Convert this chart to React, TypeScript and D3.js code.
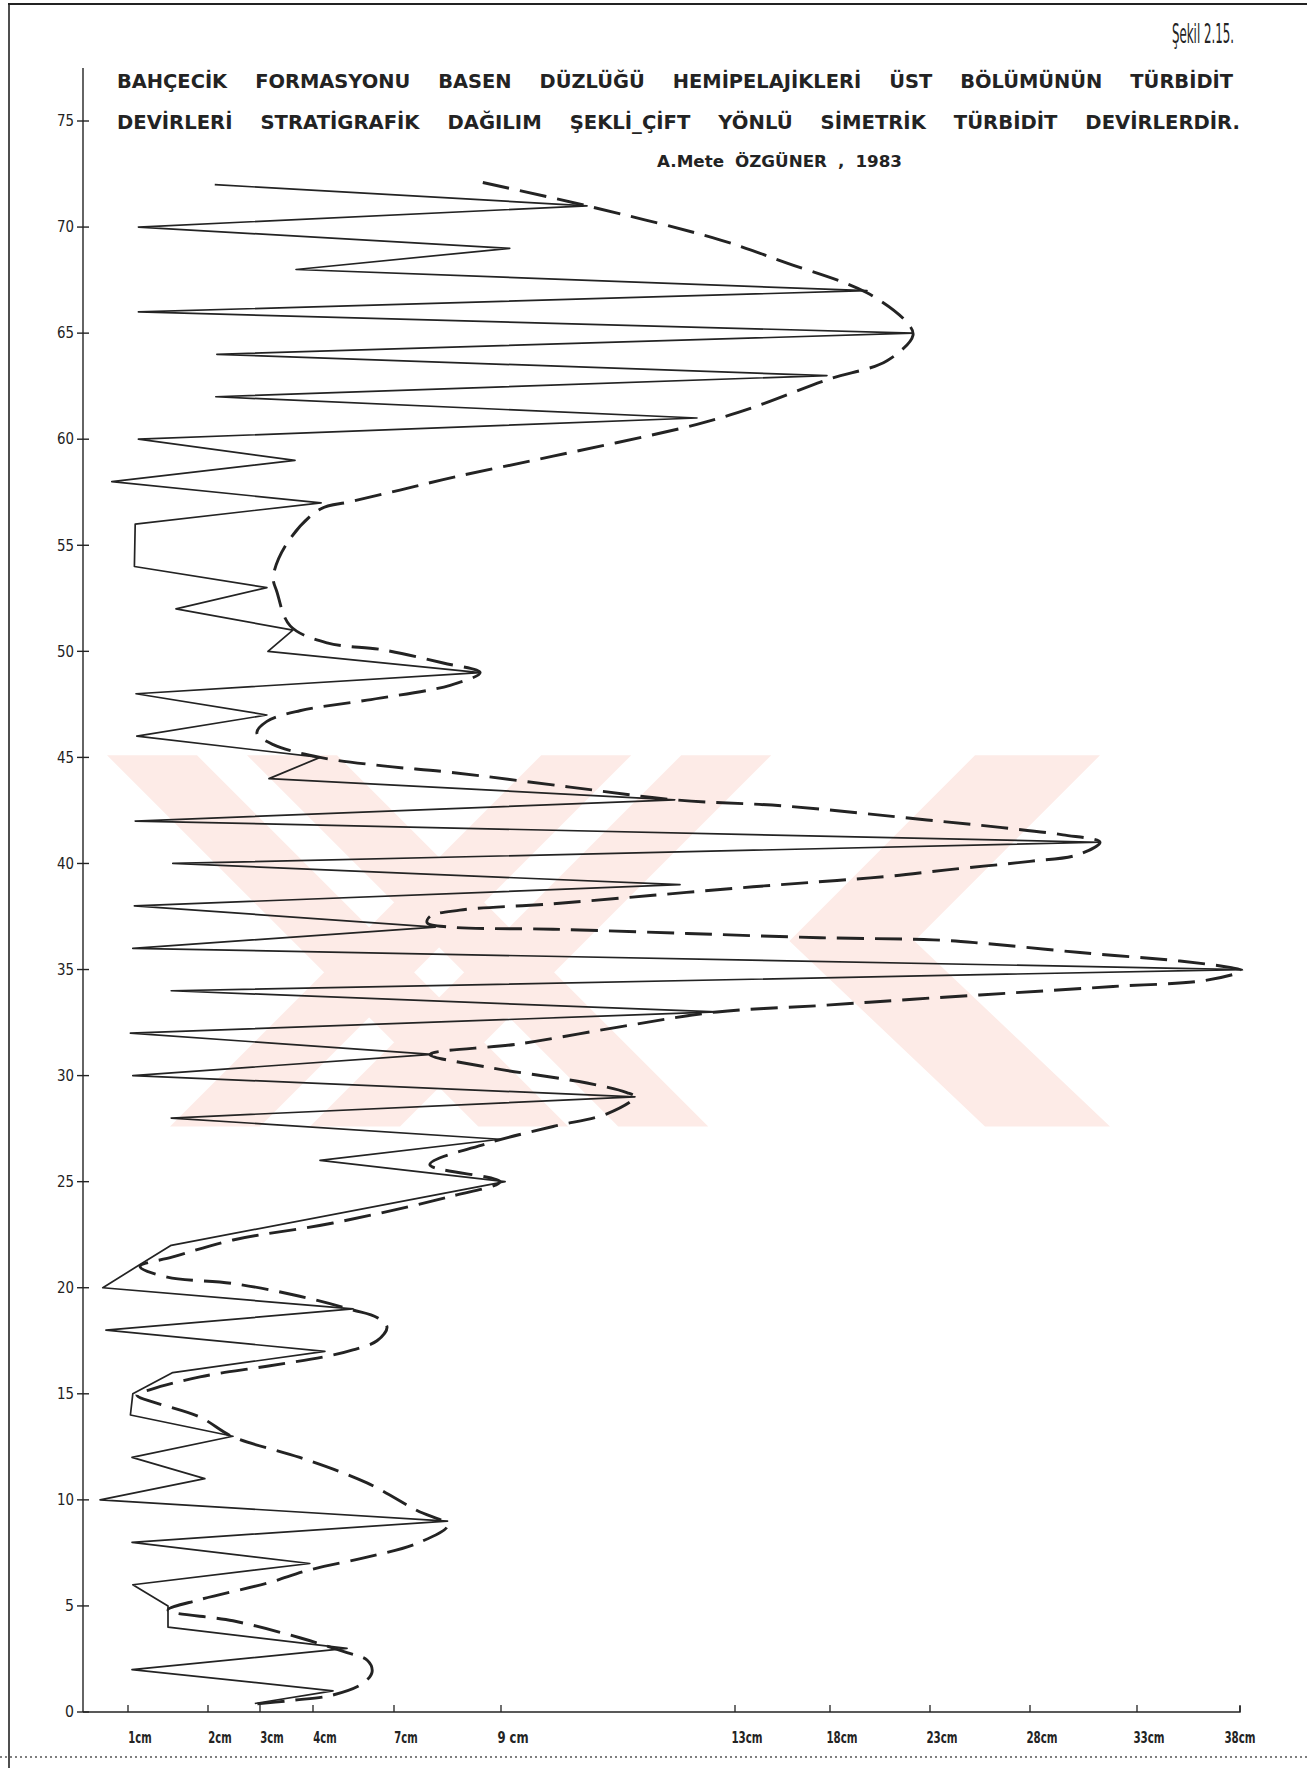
import React from "react";
import * as d3 from "d3";

// ---- data (depth level, bed thickness in cm) ----
const depthTicks = [0, 5, 10, 15, 20, 25, 30, 35, 40, 45, 50, 55, 60, 65, 70, 75];
const cmBreaks = [0, 1, 2, 3, 4, 7, 9, 13, 18, 23, 28, 33, 38];
const cmTickValues = [1, 2, 3, 4, 7, 9, 13, 18, 23, 28, 33, 38];
const cmTickLabels = ["1cm", "2cm", "3cm", "4cm", "7cm", "9 cm", "13cm", "18cm", "23cm", "28cm", "33cm", "38cm"];

const titleLine1 = "BAHÇECİK FORMASYONU BASEN DÜZLÜĞÜ HEMİPELAJİKLERİ ÜST BÖLÜMÜNÜN TÜRBİDİT";
const titleLine2 = "DEVİRLERİ STRATİGRAFİK DAĞILIM ŞEKLİ_ÇİFT YÖNLÜ SİMETRİK TÜRBİDİT DEVİRLERDİR.";
const authorLine = "A.Mete ÖZGÜNER , 1983";
const figureLabel = "Şekil 2.15.";

// solid line: [depth, cm]
const solidPath: [number, number][] = [
  [72, 2.13], [71, 10.47], [70, 1.13], [69, 9.15], [68, 3.68], [67, 19.85], [66, 1.13],
  [65, 22.15], [64, 2.17], [63, 17.84], [62, 2.15], [61, 12.35], [60, 1.13], [59, 3.66],
  [58, 0.64], [57, 4.3], [56, 1.09], [54, 1.08], [53, 3.13], [52, 1.6], [51, 3.62],
  [50, 3.15], [49, 8.61], [48, 1.1], [47, 3.13], [46, 1.11], [45, 4.26], [44, 3.17],
  [43, 11.97], [42, 1.09], [41, 31.27], [40, 1.56], [39, 12.06], [38, 1.08], [37, 7.77],
  [36, 1.06], [35, 38.1], [34, 1.54], [33, 12.69], [32, 1.03], [31, 7.71], [30, 1.06],
  [29, 11.29], [28, 1.54], [27, 8.98], [26, 4.26], [25, 9.07], [22, 1.54], [21, 1.11],
  [20, 0.44], [19, 5.48], [18, 0.51], [17, 4.44], [16, 1.56], [15, 1.06], [14, 1.03],
  [13, 2.48], [12, 1.05], [11, 1.96], [10, 0.38], [9, 8.0], [8, 1.05], [7, 3.94],
  [6, 1.06], [5, 1.5], [4, 1.5], [3, 5.26], [2, 1.05], [1, 4.74], [0.4, 2.9],
];

// dashed envelope: [depth, cm]
const envelopePath: [number, number][] = [
  [72.1, 8.66], [71.0, 10.47], [69.4, 12.74], [68.3, 15.74], [66.9, 19.85], [65.5, 21.85],
  [64.9, 22.15], [63.7, 20.85], [62.8, 17.84], [61.5, 13.95], [60.7, 12.35], [59.2, 9.89],
  [58.2, 8.1], [57.6, 7.11], [57.05, 5.37], [56.7, 4.26], [55.1, 3.51], [53.5, 3.25],
  [52.8, 3.32], [51.2, 3.57], [50.4, 4.52], [50.07, 6.59], [49.45, 7.92], [49.0, 8.61],
  [48.4, 8.05], [47.7, 6.0], [47.2, 3.75], [46.7, 3.13], [46.15, 2.94], [45.6, 3.25],
  [45.0, 4.26], [44.6, 6.59], [44.3, 8.05], [43.6, 10.18], [43.0, 11.97], [42.7, 15.74],
  [42.05, 22.85], [41.7, 26.5], [41.35, 29.54], [41.0, 31.27], [40.4, 30.2], [40.1, 28.0],
  [39.7, 23.85], [39.4, 21.0], [39.2, 18.35], [38.9, 13.95], [38.5, 11.6], [38.1, 9.89],
  [37.8, 8.23], [37.5, 7.67], [37.2, 7.62], [37.0, 8.05], [36.9, 9.89], [36.7, 12.18],
  [36.5, 17.47], [36.4, 23.15], [36.25, 25.5], [35.8, 30.34], [35.4, 35.09], [35.1, 37.51],
  [34.95, 38.1], [34.5, 36.4], [34.2, 31.88], [33.9, 27.15], [33.6, 22.15], [33.3, 17.47],
  [33.0, 12.69], [32.3, 11.03], [31.5, 9.32], [31.0, 7.67], [30.4, 8.74], [29.65, 10.47],
  [29.2, 11.15], [29.0, 11.29], [28.2, 10.81], [27.6, 9.89], [26.8, 8.74], [25.8, 7.67],
  [25.0, 8.98], [24.3, 8.05], [23.05, 4.74], [22.25, 2.48], [21.45, 1.56], [21.0, 1.15],
  [20.5, 1.49], [20.2, 2.48], [19.6, 3.75], [18.95, 5.48], [18.6, 6.37], [18.15, 6.74],
  [17.5, 6.37], [17.07, 5.48], [16.8, 4.63], [16.3, 3.13], [15.8, 1.9], [15.2, 1.28],
  [14.95, 1.11], [13.9, 1.9], [12.97, 2.48], [12.0, 3.75], [10.8, 6.0], [9.5, 7.43],
  [8.8, 8.0], [7.95, 7.43], [7.3, 6.0], [6.7, 3.94], [6.07, 3.13], [5.3, 1.9], [4.8, 1.5],
  [4.3, 2.48], [3.5, 3.75], [2.8, 5.26], [2.45, 6.0], [1.9, 6.19], [1.35, 5.85], [0.8, 4.74],
  [0.55, 3.62], [0.35, 2.81],
];

const W = 1307;
const H = 1768;

let measureCtx: CanvasRenderingContext2D | null = null;
function measure(text: string, font: string): number {
  if (!measureCtx) {
    const c = document.createElement("canvas");
    measureCtx = c.getContext("2d");
  }
  if (!measureCtx) return text.length * 10;
  measureCtx.font = font;
  return measureCtx.measureText(text).width;
}

// justify words of a line over [x0, x1] with a target gap between words
function justify(line: string, x0: number, x1: number, gap: number, font: string) {
  const words = line.split(" ");
  const nat = words.map((w) => measure(w, font));
  const sum = d3.sum(nat);
  const avail = x1 - x0 - gap * (words.length - 1);
  const k = avail / sum;
  let cx = x0;
  return words.map((w, i) => {
    const wdt = nat[i] * k;
    const item = { w, x: cx, len: wdt };
    cx += wdt + gap;
    return item;
  });
}

export default function App() {
  const y = d3.scaleLinear().domain([0, 75]).range([1712, 121]);
  const x = d3
    .scaleLinear()
    .domain(cmBreaks)
    .range([83, 128, 208, 260, 313, 394, 501, 735, 830, 930, 1030, 1137, 1240]);

  const solid = d3
    .line<[number, number]>()
    .x((d) => x(d[1]))
    .y((d) => y(d[0]))
    .curve(d3.curveLinear)(solidPath) as string;

  const envelope = d3
    .line<[number, number]>()
    .x((d) => x(d[1]))
    .y((d) => y(d[0]))
    .curve(d3.curveCatmullRom.alpha(0.5))(envelopePath) as string;

  const ink = "#232323";
  const axisX = x(0);
  const axisY = y(0);
  const family = "'DejaVu Sans', 'Liberation Sans', sans-serif";
  const titleFont = `bold 19px ${family}`;
  const authorFont = `bold 15px ${family}`;
  const figFont = `27px ${family}`;
  const figScale = 62 / measure(figureLabel, figFont);

  const l1 = justify(titleLine1, 117, 1233, 28, titleFont);
  const l2 = justify(titleLine2, 117, 1240, 28, titleFont);
  const l3 = justify(authorLine, 657, 902, 11, authorFont);

  // watermark geometry (pale chevrons behind the data)
  const wt = y(45.1);
  const wb = y(27.6);
  const wm = (wt + wb) / 2;
  const h = wb - wt;
  const hh = h / 2;
  const shapes = [
    [[107, wt], [197, wt], [197 + h, wb], [107 + h, wb]],
    [[247, wt], [337, wt], [337 + h, wb], [247 + h, wb]],
    [[170, wb], [260, wb], [260 + h, wt], [170 + h, wt]],
    [[310, wb], [400, wb], [400 + h, wt], [310 + h, wt]],
    [[975, wt], [1100, wt], [1100 - hh, wm], [1110, wb], [985, wb], [975 - hh, wm]],
  ];
  const poly = (p: number[][]) => p.map((q) => q.join(",")).join(" ");

  const words = (items: { w: string; x: number; len: number }[], yy: number, size: number) =>
    items.map((it, i) => (
      <text key={i} x={it.x} y={yy} fontFamily={family} fontWeight="bold" fontSize={size} fill={ink}
        textLength={it.len} lengthAdjust="spacingAndGlyphs">
        {it.w}
      </text>
    ));

  return (
    <svg
      width={W}
      height={H}
      viewBox={`0 0 ${W} ${H}`}
      style={{ position: "absolute", left: 0, top: 0, display: "block", background: "#fff" }}
    >
      <rect x={0} y={0} width={W} height={H} fill="#fff" />
      {/* frame */}
      <line x1={8} y1={4} x2={W} y2={4} stroke={ink} strokeWidth={2.2} />
      <line x1={9} y1={4} x2={9} y2={H} stroke={ink} strokeWidth={1.6} />
      <line x1={0} y1={1757} x2={W} y2={1757} stroke="#555" strokeWidth={1.5} strokeDasharray="2 3" />

      {/* watermark */}
      <g fill="#fdebe7">
        {shapes.map((p, i) => (
          <polygon key={i} points={poly(p)} />
        ))}
      </g>

      {/* figure label and titles */}
      <text transform={`translate(1172,43) scale(${figScale},1)`} fontFamily={family} fontSize={27} fill={ink}>
        {figureLabel}
      </text>
      {words(l1, 88, 19)}
      {words(l2, 129, 19)}
      {words(l3, 167, 15)}

      {/* y axis */}
      <line x1={axisX} y1={68} x2={axisX} y2={axisY} stroke={ink} strokeWidth={1.4} />
      {depthTicks.map((t) => (
        <g key={t} transform={`translate(0,${y(t)})`}>
          <line x1={axisX - 6} x2={axisX + 6} stroke={ink} strokeWidth={1.4} />
          <text x={axisX - 9} dy="0.35em" textAnchor="end" fontFamily={family} fontSize={15} fill={ink}
            textLength={t < 10 ? 9 : 17} lengthAdjust="spacingAndGlyphs">
            {t}
          </text>
        </g>
      ))}

      {/* x axis */}
      <path d={`M${axisX},${axisY}H${x(38)}v-6`} fill="none" stroke={ink} strokeWidth={1.4} />
      {cmTickValues.map((v, i) => (
        <g key={v} transform={`translate(${x(v)},${axisY})`}>
          <line y1={0} y2={-7} stroke={ink} strokeWidth={1.3} />
          <text x={i === cmTickValues.length - 1 ? 0 : 12} y={31} textAnchor="middle" fontFamily={family}
            fontWeight="bold" fontSize={15} fill={ink}
            textLength={cmTickLabels[i].length * 7.8} lengthAdjust="spacingAndGlyphs">
            {cmTickLabels[i]}
          </text>
        </g>
      ))}

      {/* data */}
      <path d={solid} fill="none" stroke={ink} strokeWidth={1.7} strokeLinejoin="round" />
      <path d={envelope} fill="none" stroke={ink} strokeWidth={2.9} strokeDasharray="27 11" strokeLinecap="butt" />
    </svg>
  );
}
